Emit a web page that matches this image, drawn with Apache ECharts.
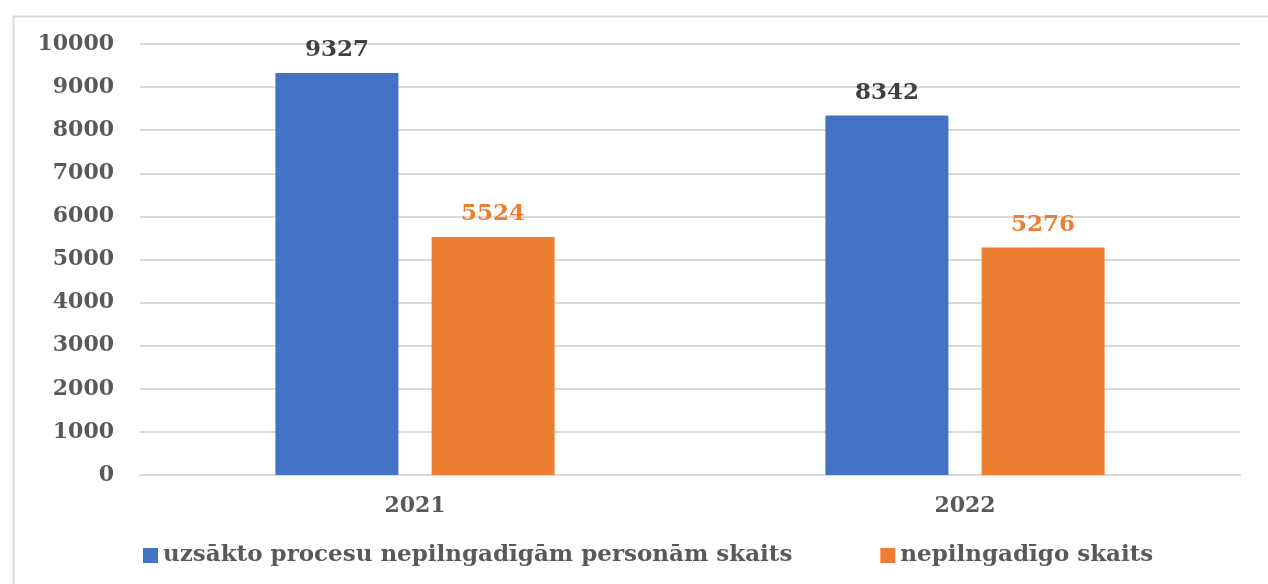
<!DOCTYPE html>
<html><head><meta charset="utf-8">
<script src="https://cdn.jsdelivr.net/npm/echarts@6/dist/echarts.min.js"></script>
<style>html,body{margin:0;padding:0;background:#fff}#c{width:1268px;height:584px}</style>
</head><body><div id="c"></div>
<script>
const categories = ['2021', '2022'];
const seriesNames = ['uzsākto procesu nepilngadīgām personām skaits', 'nepilngadīgo skaits'];
const startedProcesses = [9327, 8342];
const minors = [5524, 5276];
const yTicks = { min: 0, max: 10000, interval: 1000 };

const font = '"DejaVu Serif", "Liberation Serif", serif';
const chart = echarts.init(document.getElementById('c'));
chart.setOption({
  animation: false,
  backgroundColor: '#fff',
  graphic: [{
    type: 'rect', left: 11, top: 14, silent: true,
    shape: { width: 1275, height: 590 },
    style: { fill: 'none', stroke: '#d9d9d9', lineWidth: 2 }
  }],
  grid: { left: 140, right: 28, top: 44, bottom: 109 },
  legend: {
    bottom: 12, left: 138,
    itemWidth: 15, itemHeight: 15, itemGap: 88,
    icon: 'rect',
    textStyle: { fontFamily: font, fontWeight: 'bold', fontSize: 23, color: '#595959' },
    data: seriesNames
  },
  xAxis: {
    type: 'category', data: categories,
    axisLine: { lineStyle: { color: '#d9d9d9', width: 2 } },
    axisTick: { show: false },
    axisLabel: { margin: 20, fontFamily: font, fontWeight: 'bold', fontSize: 22, color: '#595959' }
  },
  yAxis: {
    type: 'value', min: yTicks.min, max: yTicks.max, interval: yTicks.interval,
    axisLine: { show: false }, axisTick: { show: false },
    splitLine: { lineStyle: { color: '#d9d9d9', width: 2 } },
    axisLabel: { margin: 26, fontFamily: font, fontWeight: 'bold', fontSize: 22, color: '#595959',
      formatter: v => String(v) }
  },
  series: [{
    name: seriesNames[0], type: 'bar', data: startedProcesses,
    barWidth: 123, barGap: '27%',
    itemStyle: { color: '#4472C4' },
    label: { show: true, position: 'top', distance: 11, fontFamily: font, fontWeight: 'bold', fontSize: 23, color: '#404040' }
  }, {
    name: seriesNames[1], type: 'bar', data: minors,
    barWidth: 123,
    itemStyle: { color: '#ED7D31' },
    label: { show: true, position: 'top', distance: 11, fontFamily: font, fontWeight: 'bold', fontSize: 23, color: '#ED7D31' }
  }]
});
</script></body></html>
